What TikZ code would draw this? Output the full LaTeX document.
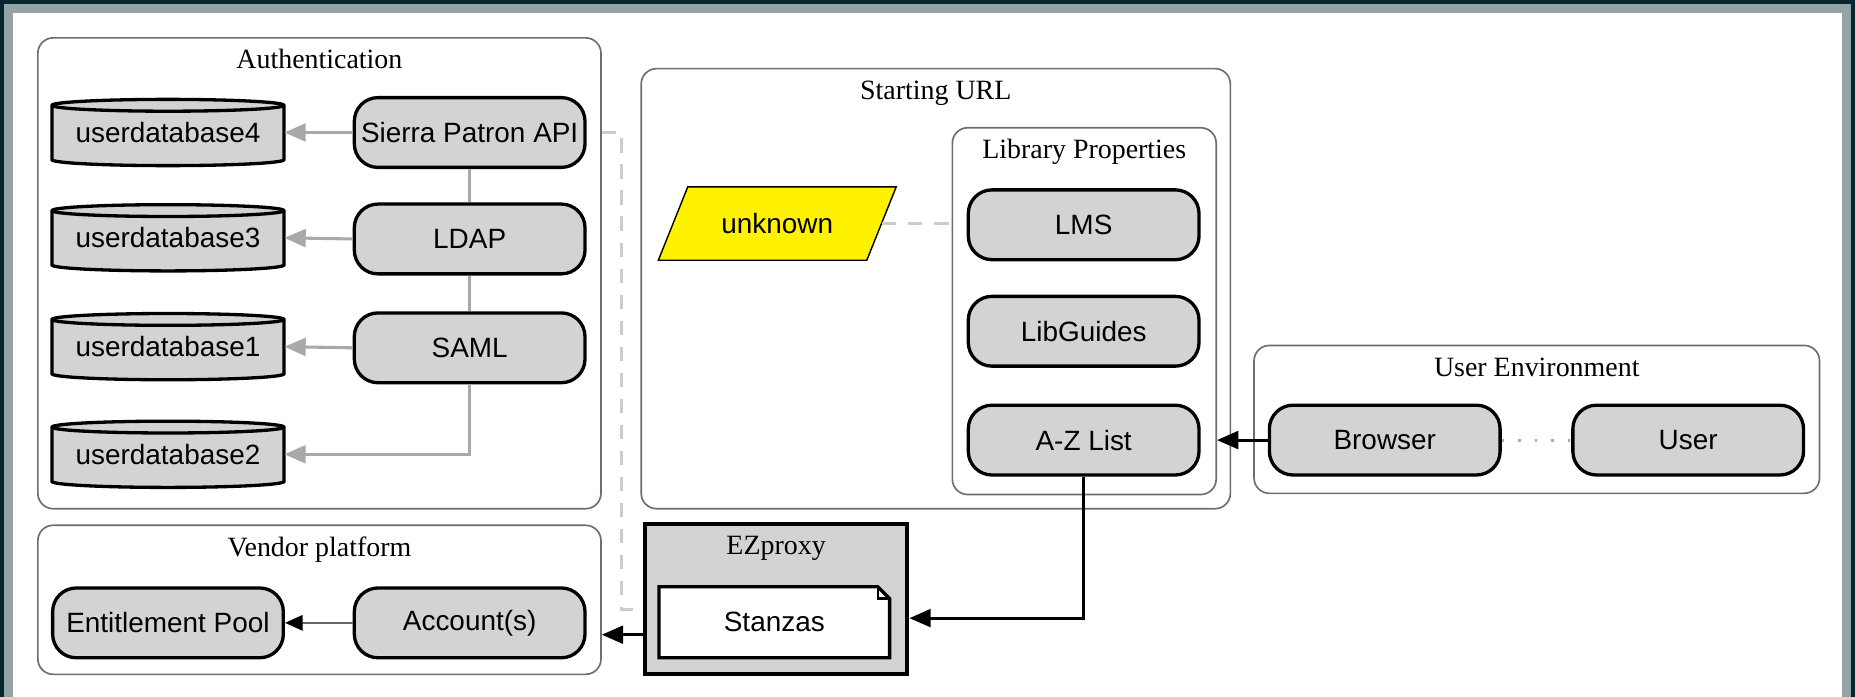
\documentclass[tikz,border=0pt]{standalone}
\usepackage{fontspec}
\setmainfont{Liberation Serif}
\setsansfont{Liberation Sans}
\usetikzlibrary{shapes.geometric,arrows.meta}

\definecolor{framedark}{HTML}{06262F}
\definecolor{framegrey}{HTML}{94A3A3}
\definecolor{boxgray}{HTML}{D3D3D3}
\definecolor{edgegray}{HTML}{A9A9A9}
\definecolor{dashgray}{HTML}{CCCCCC}
\definecolor{grpline}{HTML}{6E6E6E}

\begin{document}
\begin{tikzpicture}[
    x=0.5pt, y=-0.5pt,
    grp/.style={draw=grpline, line width=0.7pt, rounded corners=6.5pt},
    ttl/.style={font=\rmfamily\fontsize{11.8}{14}\selectfont, inner sep=0pt, anchor=base},
    item/.style={rectangle, rounded corners=10pt, draw=black, line width=1.4pt,
      fill=boxgray, minimum width=97.5pt, minimum height=29.5pt, inner xsep=2pt,
      font=\sffamily\fontsize{11.8}{14}\selectfont},
    plain/.style={rectangle, minimum width=98pt, minimum height=28pt,
      font=\sffamily\fontsize{11.8}{14}\selectfont},
    cyl/.style={draw=black, line width=1.4pt, fill=boxgray},
    garr/.style={draw=edgegray, line width=1.3pt, -{Triangle[length=9pt,width=7.5pt]}},
    gline/.style={draw=edgegray, line width=1.3pt},
    barr/.style={draw=black, line width=1.3pt, -{Triangle[length=9pt,width=7.5pt]}},
    karr/.style={draw=black!60, line width=1pt, -{Triangle[length=7.5pt,width=6.5pt,color=black]}},
    dline/.style={draw=dashgray, line width=1.3pt, dash pattern=on 6pt off 5pt},
    dotl/.style={draw=edgegray, line width=1.3pt, dash pattern=on 1pt off 6pt},
  ]
  % frame
  \fill[framedark] (0,0) rectangle (1568,589);
  \fill[framegrey] (3.4,3.4) rectangle (1565,589);
  \fill[white] (11,11) rectangle (1557,589);
  \useasboundingbox (0,0) rectangle (1568,589);

  % groups
  \node[grp, minimum width=238pt, minimum height=199pt] (auth) at (270,231) {};
  \node[grp, minimum width=249pt, minimum height=186pt] (starturl) at (791,244) {};
  \node[grp, minimum width=111.5pt, minimum height=155pt] (libprop) at (916.5,263) {};
  \node[grp, minimum width=239pt, minimum height=62.5pt] (userenv) at (1299,354.5) {};
  \node[grp, minimum width=238pt, minimum height=63pt] (vendor) at (270,507) {};
  \node[draw=black, line width=1.7pt, fill=boxgray,
    minimum width=111pt, minimum height=63.5pt] (ezproxy) at (656,506.5) {};

  \node[ttl] (tauth) at ([yshift=-13.5pt]auth.north) {Authentication};
  \node[ttl] (tstart) at ([yshift=-13.5pt]starturl.north) {Starting URL};
  \node[ttl] (tlib) at ([yshift=-13.5pt]libprop.north) {Library Properties};
  \node[ttl] (tuser) at ([yshift=-13.5pt]userenv.north) {User Environment};
  \node[ttl] (tvendor) at ([yshift=-13.5pt]vendor.north) {Vendor platform};
  \node[ttl] (tezp) at ([yshift=-13.5pt]ezproxy.north) {EZproxy};

  % databases
  \foreach \y in {112,201,293,384} {
    \draw[cyl] (44,\y) ++(0,11.5pt) -- ++(0,-23pt)
      arc[start angle=180, end angle=360, x radius=49pt, y radius=2.5pt]
      -- ++(0,23pt)
      arc[start angle=0, end angle=180, x radius=49pt, y radius=2.5pt] -- cycle;
    \draw[cyl, fill=none] (44,\y) ++(0,11.5pt)
      arc[start angle=180, end angle=360, x radius=49pt, y radius=2.5pt];
  }
  \node[plain] (db4) at (142,112) {userdatabase4};
  \node[plain] (db3) at (142,201) {userdatabase3};
  \node[plain] (db1) at (142,293) {userdatabase1};
  \node[plain] (db2) at (142,384) {userdatabase2};

  \node[item] (sierra) at (397,112) {Sierra Patron API};
  \node[item] (ldap) at (397,202) {LDAP};
  \node[item] (saml) at (397,294) {SAML};

  \node[trapezium, trapezium left angle=60, trapezium right angle=120,
    trapezium stretches=true, draw=black, line width=0.6pt, fill=yellow,
    minimum width=101pt, minimum height=31pt,
    font=\sffamily\fontsize{11.8}{14}\selectfont] (unknown) at (657,189) {unknown};

  \node[item] (lms) at (916,190) {LMS};
  \node[item] (libg) at (916,280) {LibGuides};
  \node[item] (azl) at (916,372) {A-Z List};

  \node[item] (browser) at (1170.5,372) {Browser};
  \node[item] (user) at (1427,372) {User};

  \node[item] (entpool) at (142,526.5) {Entitlement Pool};
  \node[item] (accts) at (397,526.5) {Account(s)};

  % note
  \draw[line width=1.4pt, fill=white] (557,496) -- (742,496) -- (752,506)
    -- (752,556) -- (557,556) -- cycle;
  \draw[line width=1.1pt] (742,496) -- (742,506) -- (752,506);
  \node[plain] (stanzas) at (654.5,526) {Stanzas};

  \coordinate (ezin) at ([yshift=-8pt]ezproxy.east);
  \coordinate (ezout) at ([yshift=-15pt]ezproxy.west);
  \coordinate (ezdash) at ([yshift=-4.5pt]ezproxy.west);

  \draw[garr] (sierra.west) -- (db4.east);
  \draw[garr] (ldap.west) -- (db3.east);
  \draw[garr] (saml.west) -- (db1.east);
  \draw[garr] (saml.south) |- (db2.east);
  \draw[gline] (sierra) -- (ldap);
  \draw[gline] (ldap) -- (saml);

  \draw[dline] (auth.east |- sierra.east) -- ++(8.5pt,0) |- (ezdash);
  \draw[dline] (unknown.east) -- (libprop.west |- unknown.east);

  \draw[barr] (browser.west) -- (libprop.east |- browser.west);
  \draw[dotl] (browser.east) -- (user.west);
  \draw[barr] (azl.south) |- (ezin);
  \draw[barr] (ezout) -- (vendor.east |- ezout);
  \draw[karr] (accts.west) -- (entpool.east);
\end{tikzpicture}
\end{document}
